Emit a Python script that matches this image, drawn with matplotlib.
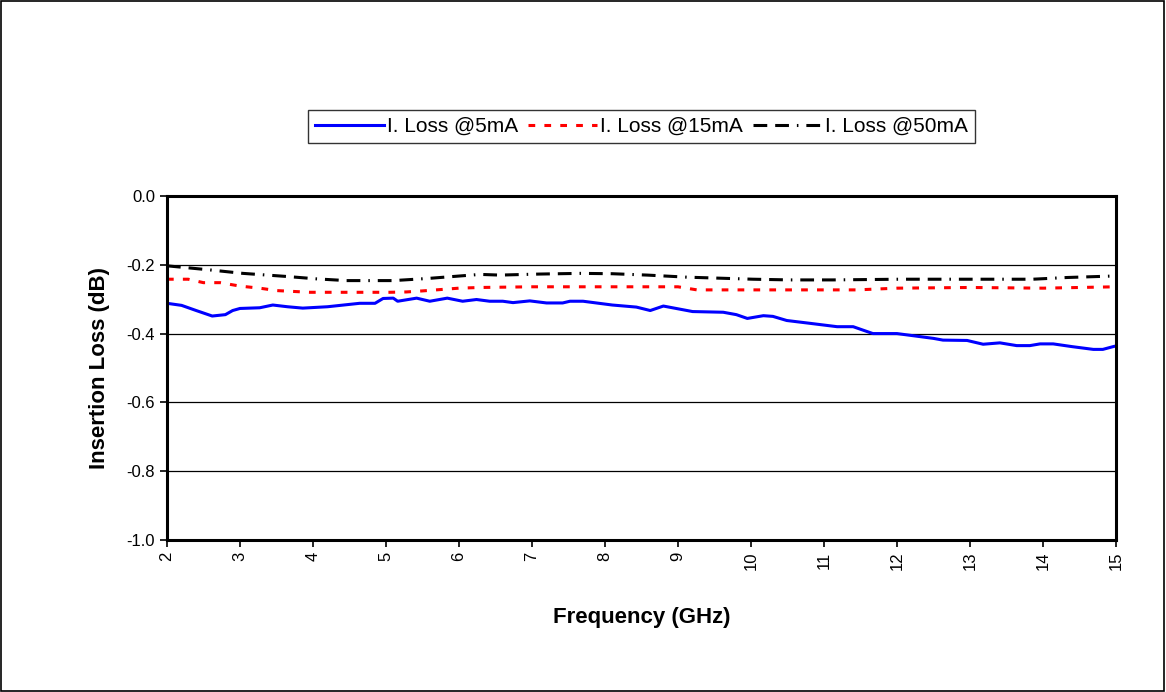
import matplotlib
matplotlib.use("Agg")
import matplotlib.pyplot as plt
from matplotlib.patches import Rectangle

plt.rcParams["font.family"] = ["Liberation Sans", "DejaVu Sans"]

# values
freq_5ma = [2.0, 2.2, 2.4, 2.62, 2.8, 2.9, 3.0, 3.27, 3.45, 3.65, 3.86, 4.2, 4.64, 4.85, 4.96,
            5.1, 5.16, 5.42, 5.6, 5.84, 6.05, 6.24, 6.42, 6.6, 6.74, 6.97, 7.2, 7.42, 7.52,
            7.7, 8.1, 8.43, 8.62, 8.8, 9.2, 9.62, 9.8, 9.95, 10.17, 10.3, 10.49, 10.8, 11.18,
            11.4, 11.67, 12.0, 12.5, 12.63, 12.96, 13.18, 13.41, 13.64, 13.82, 13.96, 14.14,
            14.4, 14.69, 14.82, 14.96, 15.0]
loss_5ma = [-0.312, -0.318, -0.333, -0.349, -0.345, -0.333, -0.327, -0.325, -0.317, -0.322, -0.326,
            -0.322, -0.312, -0.312, -0.298, -0.297, -0.306, -0.297, -0.306, -0.297, -0.306, -0.301,
            -0.306, -0.306, -0.31, -0.305, -0.311, -0.311, -0.306, -0.306, -0.317, -0.323, -0.333,
            -0.32, -0.336, -0.338, -0.345, -0.356, -0.348, -0.35, -0.362, -0.37, -0.38, -0.38,
            -0.40, -0.40, -0.414, -0.419, -0.42, -0.431, -0.427, -0.435, -0.435, -0.43, -0.43,
            -0.438, -0.446, -0.446, -0.438, -0.436]

freq_15ma = [2.0, 2.29, 2.5, 2.73, 3.0, 3.27, 3.5, 3.96, 4.64, 5.05, 5.28, 5.5, 6.0, 6.29, 7.0,
             8.0, 9.0, 9.26, 10.0, 11.0, 11.45, 12.0, 13.0, 14.0, 14.5, 15.0]
loss_15ma = [-0.242, -0.242, -0.252, -0.252, -0.262, -0.268, -0.275, -0.28, -0.28, -0.28, -0.279,
             -0.276, -0.268, -0.266, -0.264, -0.264, -0.264, -0.273, -0.273, -0.273, -0.273,
             -0.268, -0.266, -0.268, -0.266, -0.264]

freq_50ma = [2.0, 2.59, 3.04, 3.64, 4.05, 4.46, 5.1, 5.56, 6.29, 6.56, 7.1, 7.66, 8.1, 8.58,
             9.12, 10.03, 10.53, 11.12, 12.04, 13.86, 14.33, 14.92, 15.0]
loss_50ma = [-0.203, -0.215, -0.225, -0.234, -0.241, -0.246, -0.246, -0.24, -0.228, -0.23,
             -0.227, -0.225, -0.226, -0.23, -0.236, -0.242, -0.244, -0.244, -0.242, -0.242,
             -0.237, -0.233, -0.233]

x_ticks = list(range(2, 16))
y_ticks = [0.0, -0.2, -0.4, -0.6, -0.8, -1.0]


def main():
    fig = plt.figure(figsize=(11.66, 6.92), dpi=100)
    fig.patches.append(Rectangle((0.001, 0.001), 0.997, 0.997, transform=fig.transFigure,
                                 fill=False, edgecolor="black", linewidth=1.2))
    ax = fig.add_axes([0.1432, 0.2197, 0.8139, 0.4971])

    ax.plot(freq_5ma, loss_5ma, color="#0000ff", linewidth=2.2, label="I. Loss @5mA")
    ax.plot(freq_15ma, loss_15ma, color="#ff0000", linewidth=2.2, linestyle=(0, (2.2, 3)),
            label="I. Loss @15mA")
    ax.plot(freq_50ma, loss_50ma, color="black", linewidth=2.2,
            linestyle=(0, (4.5, 2.6, 4.5, 2.6, 0.5, 2.6)), label="I. Loss @50mA")

    ax.set_xlim(2, 15)
    ax.set_ylim(-1.0, 0.0)
    ax.set_xticks(x_ticks)
    ax.set_xticklabels([str(t) for t in x_ticks], rotation=90, fontsize=12)
    ax.set_yticks(y_ticks)
    ax.set_yticklabels([f"{t:.1f}" for t in y_ticks], fontsize=12)
    ax.tick_params(direction="out", length=5, width=1.2)
    ax.grid(axis="y", color="black", linewidth=0.9)
    ax.set_axisbelow(True)
    for spine in ax.spines.values():
        spine.set_linewidth(2.2)

    ax.set_xlabel("Frequency (GHz)", fontsize=16, fontweight="bold", labelpad=26)
    ax.set_ylabel("Insertion Loss (dB)", fontsize=16, fontweight="bold", labelpad=12)

    leg = fig.legend(loc="center", bbox_to_anchor=(0.5502, 0.817), ncol=3, fontsize=15,
                     frameon=True, fancybox=False, handlelength=3.3, handletextpad=0.15,
                     columnspacing=0.5, borderpad=0.32, borderaxespad=0)
    leg.get_frame().set_edgecolor("black")
    leg.get_frame().set_linewidth(1.0)

    fig.savefig("out.png", dpi=100)


if __name__ == "__main__":
    main()
